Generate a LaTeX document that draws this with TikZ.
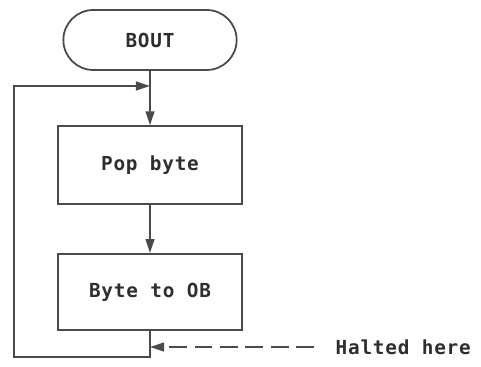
\documentclass[tikz,border=0pt]{standalone}
\usepackage{fontspec}
\usepackage{xcolor}
\usetikzlibrary{arrows.meta,shapes.misc}
\newfontfamily\plotfont[LetterSpace=4]{DejaVu Sans Mono}
\definecolor{penline}{HTML}{4A4A4A}
\definecolor{pentext}{HTML}{2E2E2E}

\begin{document}
\begin{tikzpicture}[
    line width=1pt, draw=penline,
    box/.style={draw=penline, minimum width=3.67cm, minimum height=1.55cm,
      font=\plotfont\bfseries\fontsize{11}{13}\selectfont, text=pentext},
    flow/.style={penline, -{Triangle[length=8pt,width=5pt]}}
  ]
  \useasboundingbox (0,0) rectangle (9.62,7.34);

  \node[box, rounded rectangle, minimum width=3.7cm, minimum height=1.2cm]
    (bout) at (3.0,6.54) {BOUT};
  \node[box] (pop) at (3.0,4.04) {Pop byte};
  \node[box, minimum height=1.52cm] (tob) at (3.0,1.5) {Byte to OB};
  \node[anchor=west, font=\plotfont\bfseries\fontsize{11}{13}\selectfont, text=pentext]
    (halt) at (6.58,0.4) {Halted here};

  \coordinate (join) at (3.0,5.62);
  \coordinate (stop) at (3.0,0.4);
  \coordinate (low) at (3.0,0.2);

  \draw[flow] (bout) -- (pop);
  \draw[flow] (pop) -- (tob);
  \draw[flow] (tob.south) -- (low) -| (0.28,5.62) -- (join);
  \draw[flow, dash pattern=on 10pt off 4.5pt] (halt.west) ++(-0.3,0) -- (stop);
\end{tikzpicture}
\end{document}
